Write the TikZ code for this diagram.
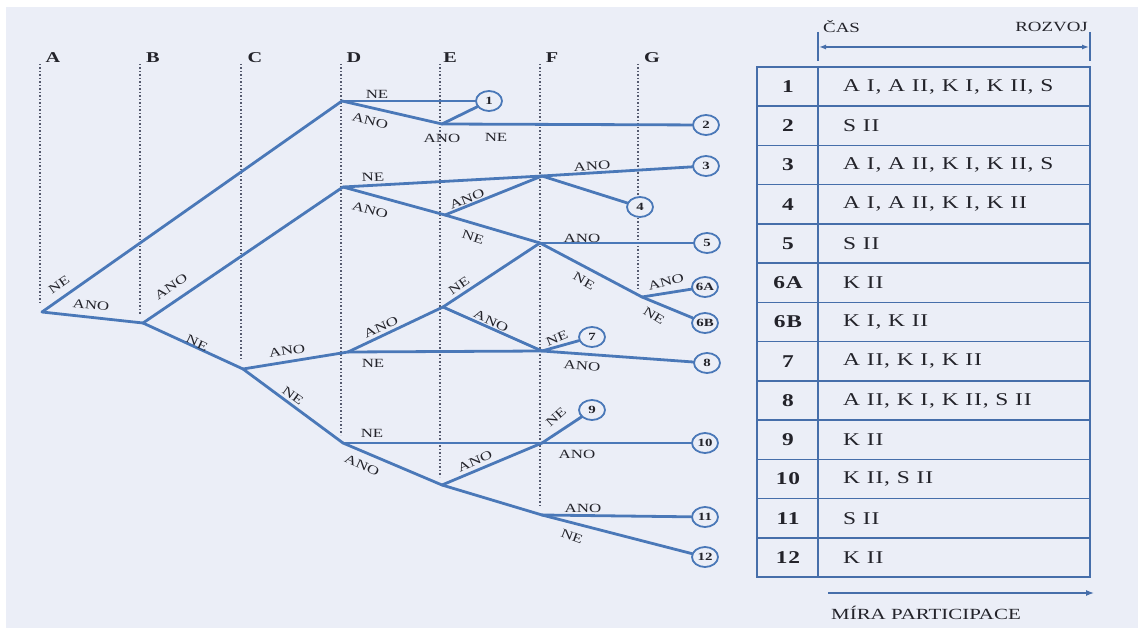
\documentclass[tikz,border=0pt]{standalone}
\usepackage{fontspec}
\setmainfont{Liberation Serif}
\newfontfamily\labfont{Liberation Serif}[FakeStretch=1.35]
\newfontfamily\tabfont{Liberation Serif}[FakeStretch=1.3,LetterSpace=5]
\usetikzlibrary{shapes.geometric,arrows.meta}
\definecolor{lineblue}{RGB}{74,120,184}
\definecolor{tabblue}{RGB}{70,110,170}
\definecolor{bgc}{RGB}{235,238,247}
\definecolor{txt}{RGB}{35,35,42}
\definecolor{dotc}{RGB}{85,90,110}
\tikzset{
  br/.style={draw=lineblue,line width=2.8pt,line cap=round,line join=round},
  lab/.style={font=\labfont\fontsize{12.5}{12.5}\selectfont,text=txt,inner sep=0pt},
  colhead/.style={font=\labfont\bfseries\fontsize{15}{15}\selectfont,text=txt,inner sep=0pt},
  leaf/.style={ellipse,draw=lineblue,line width=1.8pt,fill=bgc,minimum width=26pt,minimum height=20pt,inner sep=0pt,font=\labfont\bfseries\fontsize{11}{11}\selectfont,text=txt},
  guide/.style={draw=dotc,line width=1.4pt,dash pattern=on 1.3pt off 2.2pt},
  tab/.style={draw=tabblue,line width=1.5pt},
  tabnum/.style={font=\tabfont\bfseries\fontsize{18}{18}\selectfont,text=txt,inner sep=0pt},
  tabtxt/.style={font=\tabfont\fontsize{18}{18}\selectfont,text=txt,inner sep=0pt,anchor=west},
  hdr/.style={font=\labfont\fontsize{14}{14}\selectfont,text=txt,inner sep=0pt}
}
\begin{document}
\begin{tikzpicture}[x=1pt,y=-1pt]
\useasboundingbox (0,0) rectangle (1138,628);
\fill[white] (0,0) rectangle (1138,628);
\fill[bgc] (6,7) rectangle (1138,628);

% column headers
\node[colhead] (hA) at (53,58) {A};
\node[colhead] (hB) at (153,58) {B};
\node[colhead] (hC) at (255,58) {C};
\node[colhead] (hD) at (354,58) {D};
\node[colhead] (hE) at (450,58) {E};
\node[colhead] (hF) at (552,58) {F};
\node[colhead] (hG) at (652,58) {G};

% branch points
\coordinate (A0) at (42,312);
\coordinate (B0) at (143,323);
\coordinate (C0) at (243,369);
\coordinate (D1) at (342,101);
\coordinate (D2) at (343,187);
\coordinate (D3) at (348,352);
\coordinate (D4) at (343,443);
\coordinate (E1) at (442,124);
\coordinate (E2) at (445,215);
\coordinate (E3) at (443,307);
\coordinate (E4) at (442,485);
\coordinate (F1) at (542,176);
\coordinate (F2) at (540,243);
\coordinate (F3) at (542,351);
\coordinate (F4) at (542,443);
\coordinate (F5) at (542,515);
\coordinate (G1) at (642,297);

% dotted guides
\coordinate (tA) at (40,64);  \coordinate (bA) at (40,303);
\coordinate (tB) at (140,64); \coordinate (bB) at (140,315);
\coordinate (tC) at (241,64); \coordinate (bC) at (241,361);
\coordinate (tD) at (341,64); \coordinate (bD) at (341,435);
\coordinate (tE) at (440,64); \coordinate (bE) at (440,477);
\coordinate (tF) at (540,64); \coordinate (bF) at (540,508);
\coordinate (tG) at (638,64); \coordinate (bG) at (638,290);
\foreach \c in {A,B,C,D,E,F,G} \draw[guide] (t\c) -- (b\c);

% leaves
\node[leaf] (L1) at (489,101) {1};
\node[leaf] (L2) at (706,125) {2};
\node[leaf] (L3) at (706,166) {3};
\node[leaf] (L4) at (640,207) {4};
\node[leaf] (L5) at (707,243) {5};
\node[leaf] (L6a) at (705,287) {6A};
\node[leaf] (L6b) at (705,323) {6B};
\node[leaf] (L7) at (592,337) {7};
\node[leaf] (L8) at (707,363) {8};
\node[leaf] (L9) at (592,410) {9};
\node[leaf] (L10) at (705,443) {10};
\node[leaf] (L11) at (705,517) {11};
\node[leaf] (L12) at (705,557) {12};

% branches
\draw[br] (A0) -- (D1);
\draw[br] (A0) -- (B0);
\draw[br] (B0) -- (D2);
\draw[br] (B0) -- (C0);
\draw[br] (C0) -- (D3);
\draw[br] (C0) -- (D4);
\draw[br] (D1) -- (L1);
\draw[br] (D1) -- (E1);
\draw[br] (E1) -- (L1);
\draw[br] (E1) -- (L2);
\draw[br] (D2) -- (F1);
\draw[br] (D2) -- (E2);
\draw[br] (E2) -- (F1);
\draw[br] (E2) -- (F2);
\draw[br] (F1) -- (L3);
\draw[br] (F1) -- (L4);
\draw[br] (F2) -- (L5);
\draw[br] (F2) -- (G1);
\draw[br] (G1) -- (L6a);
\draw[br] (G1) -- (L6b);
\draw[br] (D3) -- (E3);
\draw[br] (D3) -- (F3);
\draw[br] (E3) -- (F2);
\draw[br] (E3) -- (F3);
\draw[br] (F3) -- (L7);
\draw[br] (F3) -- (L8);
\draw[br] (D4) -- (F4);
\draw[br] (D4) -- (E4);
\draw[br] (E4) -- (F4);
\draw[br] (E4) -- (F5);
\draw[br] (F4) -- (L9);
\draw[br] (F4) -- (L10);
\draw[br] (F5) -- (L11);
\draw[br] (F5) -- (L12);

% branch labels
\node[lab,rotate=35] (l1) at (59,285) {NE};
\node[lab,rotate=-6] (l2) at (91,305) {ANO};
\node[lab,rotate=34] (l3) at (171,287) {ANO};
\node[lab,rotate=-25] (l4) at (197,343) {NE};
\node[lab,rotate=9] (l5) at (287,351) {ANO};
\node[lab,rotate=-36] (l6) at (293,396) {NE};
\node[lab] (l7) at (377,94) {NE};
\node[lab,rotate=-13] (l8) at (370,121) {ANO};
\node[lab] (l9) at (442,138) {ANO};
\node[lab] (l10) at (496,137) {NE};
\node[lab,rotate=3] (l11) at (373,177) {NE};
\node[lab,rotate=-15] (l12) at (370,210) {ANO};
\node[lab,rotate=22] (l13) at (467,199) {ANO};
\node[lab,rotate=-18] (l14) at (473,237) {NE};
\node[lab,rotate=3] (l15) at (592,166) {ANO};
\node[lab] (l16) at (582,238) {ANO};
\node[lab,rotate=-30] (l17) at (584,281) {NE};
\node[lab,rotate=15] (l18) at (666,282) {ANO};
\node[lab,rotate=-32] (l19) at (654,316) {NE};
\node[lab,rotate=25] (l20) at (381,327) {ANO};
\node[lab] (l21) at (373,363) {NE};
\node[lab,rotate=35] (l22) at (459,286) {NE};
\node[lab,rotate=-25] (l23) at (491,321) {ANO};
\node[lab,rotate=22] (l24) at (557,338) {NE};
\node[lab,rotate=-4] (l25) at (582,366) {ANO};
\node[lab] (l26) at (372,433) {NE};
\node[lab,rotate=-24] (l27) at (362,465) {ANO};
\node[lab,rotate=24] (l28) at (475,461) {ANO};
\node[lab,rotate=42] (l29) at (556,417) {NE};
\node[lab] (l30) at (577,454) {ANO};
\node[lab] (l31) at (583,508) {ANO};
\node[lab,rotate=-20] (l32) at (572,536) {NE};

% header above table
\node[hdr,anchor=west] (cas) at (823,27) {ČAS};
\node[hdr,anchor=east] (rozvoj) at (1088,27) {ROZVOJ};
\coordinate (tk1a) at (818,32); \coordinate (tk1b) at (818,61);
\coordinate (tk2a) at (1090,32); \coordinate (tk2b) at (1090,61);
\draw[tab,line width=1.3pt] (tk1a) -- (tk1b);
\draw[tab,line width=1.3pt] (tk2a) -- (tk2b);
\coordinate (arL) at (819,47); \coordinate (arR) at (1089,47);
\draw[tab,line width=1.3pt,{Latex[length=7pt,width=5pt]}-{Latex[length=7pt,width=5pt]}] (arL) -- (arR);

% table
\draw[tab] (757,67) rectangle (1090,577);
\draw[tab] (818,67) -- (818,577);
\foreach \k in {1,...,12} \draw[tab] (757,{67+39.23*\k}) -- (1090,{67+39.23*\k});
\foreach \k/\num/\txt in {0/1/{A I, A II, K I, K II, S},1/2/{S II},2/3/{A I, A II, K I, K II, S},3/4/{A I, A II, K I, K II},4/5/{S II},5/6A/{K II},6/6B/{K I, K II},7/7/{A II, K I, K II},8/8/{A II, K I, K II, S II},9/9/{K II},10/10/{K II, S II},11/11/{S II},12/12/{K II}}{
  \node[tabnum] (n\k) at (788,{67+39.23*(\k+0.5)}) {\num};
  \node[tabtxt] (t\k) at (843,{67+39.23*(\k+0.5)}) {\txt};
}

% bottom arrow
\coordinate (mL) at (828,593); \coordinate (mR) at (1094,593);
\draw[tab,line width=1.3pt,-{Latex[length=8pt,width=6pt]}] (mL) -- (mR);
\node[hdr,font=\labfont\fontsize{15.5}{15.5}\selectfont] (mira) at (926,613) {MÍRA PARTICIPACE};
\end{tikzpicture}
\end{document}
